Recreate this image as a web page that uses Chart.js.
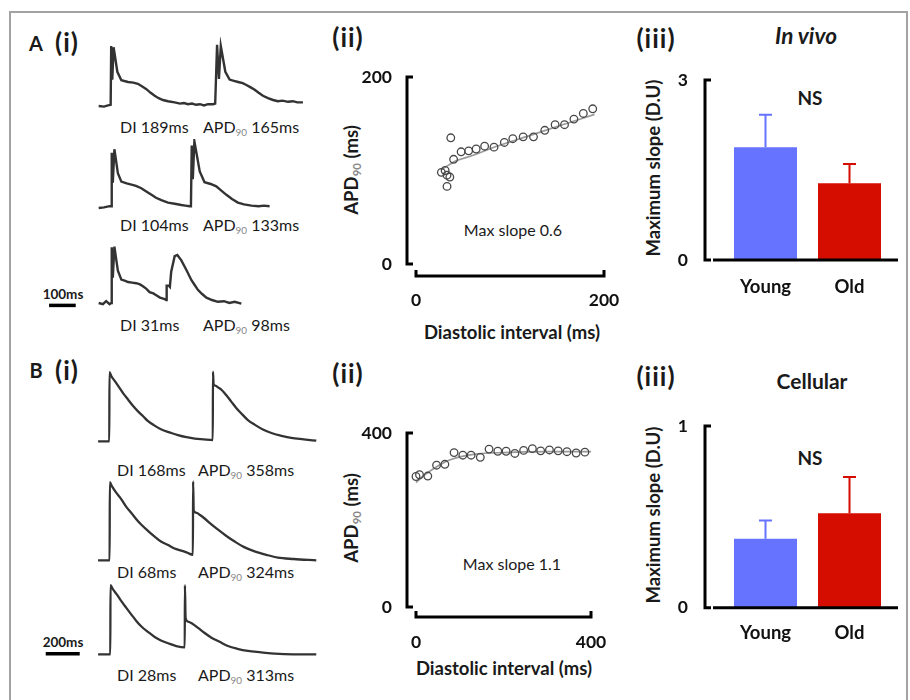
<!DOCTYPE html>
<html><head><meta charset="utf-8">
<script src="https://cdn.jsdelivr.net/npm/chart.js@4.4.1/dist/chart.umd.min.js"></script>
<style>
body{margin:0;background:#fff;width:910px;height:700px;overflow:hidden;position:relative;font-family:Lato,sans-serif;color:#1a1a1a}
canvas{position:absolute}
#frame{position:absolute;left:9px;top:11px;width:895px;height:720px;border:2px solid #a3a3a3;border-bottom:none}
.t{position:absolute;white-space:nowrap;transform:translate(-50%,-50%);line-height:1}
.l{position:absolute;white-space:nowrap;transform:translateY(-50%);line-height:1;font-size:16px}
.b{font-weight:bold}
.rot{transform:translate(-50%,-50%) rotate(-90deg)}
sub{font-size:0.62em;color:#888;vertical-align:-0.3em;line-height:0}
.pl{font-size:26px;font-weight:bold;letter-spacing:1px}
</style></head><body>
<div id="frame"></div>

<div class="t b" style="left:36px;top:43px;font-size:20px">A</div>
<div class="t pl" style="left:67px;top:42px">(i)</div>
<div class="t b" style="left:36px;top:370px;font-size:20px">B</div>
<div class="t pl" style="left:67px;top:370px">(i)</div>
<div class="t pl" style="left:348px;top:37px">(ii)</div>
<div class="t pl" style="left:348px;top:373px">(ii)</div>
<div class="t pl" style="left:656px;top:38px">(iii)</div>
<div class="t pl" style="left:656px;top:376px">(iii)</div>
<div class="t b" style="left:806px;top:36px;font-size:22.5px;font-style:italic">In vivo</div>
<div class="t b" style="left:812px;top:380px;font-size:21px">Cellular</div>
<div class="t b" style="left:810px;top:97px;font-size:19px">NS</div>
<div class="t b" style="left:810px;top:457px;font-size:19px">NS</div>
<div class="t b rot" style="left:653px;top:168px;font-size:18.5px">Maximum slope (D.U)</div>
<div class="t b rot" style="left:653px;top:515px;font-size:18.5px">Maximum slope (D.U)</div>
<div class="t b rot" style="left:351px;top:170px;font-size:18.5px">APD<sub>90</sub> (ms)</div>
<div class="t b rot" style="left:351px;top:518px;font-size:18.5px">APD<sub>90</sub> (ms)</div>
<div class="t b" style="left:512px;top:332px;font-size:18.5px">Diastolic interval (ms)</div>
<div class="t b" style="left:504px;top:668px;font-size:18.5px">Diastolic interval (ms)</div>
<div class="t" style="left:513px;top:230px;font-size:16px">Max slope 0.6</div>
<div class="t" style="left:512px;top:564px;font-size:16px">Max slope 1.1</div>
<div class="t b" style="left:63px;top:295px;font-size:13.5px">100ms</div>
<div class="t b" style="left:63px;top:643px;font-size:13.5px">200ms</div>

<div class="l" style="left:120px;top:127px">DI 189ms</div>
<div class="l" style="left:203px;top:127px">APD<sub>90</sub> 165ms</div>
<div class="l" style="left:120px;top:225px">DI 104ms</div>
<div class="l" style="left:203px;top:225px">APD<sub>90</sub> 133ms</div>
<div class="l" style="left:120px;top:325px">DI 31ms</div>
<div class="l" style="left:203px;top:325px">APD<sub>90</sub> 98ms</div>
<div class="l" style="left:117px;top:470px">DI 168ms</div>
<div class="l" style="left:198px;top:470px">APD<sub>90</sub> 358ms</div>
<div class="l" style="left:117px;top:572px">DI 68ms</div>
<div class="l" style="left:198px;top:572px">APD<sub>90</sub> 324ms</div>
<div class="l" style="left:117px;top:675px">DI 28ms</div>
<div class="l" style="left:198px;top:675px">APD<sub>90</sub> 313ms</div>

<script>
// ---------- DATA ----------
// In vivo action potential traces: [time (ms), normalised voltage (%)]
const traceA1 = [[0,0],[20,-1],[35,1],[45,2],[47,100],[51,44],[56,98],[70,57],[85,43],[110,40],[130,39],[147,37],[165,32],[179,28],[195,22],[210,17],[225,13],[241,10],[260,8],[285,6],[305,4],[320,5],[335,3],[350,4],[365,2],[380,3],[395,1],[410,3],[429,3],[437,4],[444,102],[451,45],[458,100],[475,57],[491,44],[507,42],[523,40],[540,38],[554,35],[570,31],[585,27],[600,22],[616,17],[635,13],[654,10],[672,8],[690,9],[710,7],[728,8],[745,6],[766,6]];
const traceA2 = [[0,0],[20,1],[41,3],[47,3],[49,92],[53,42],[59,98],[72,58],[85,44],[105,41],[123,39],[140,37],[160,33],[180,27],[198,22],[215,17],[235,13],[260,9],[285,7],[310,5],[325,4],[341,3],[346,3],[349,104],[353,48],[359,111],[379,61],[397,43],[420,40],[441,36],[460,29],[479,22],[500,15],[522,9],[545,6],[573,4],[600,3],[620,4],[641,3]];
const traceA3 = [[0,0],[16,-2],[28,3],[41,-2],[47,0],[49,93],[53,42],[59,94],[72,54],[85,39],[100,37],[110,35],[125,34],[141,33],[155,31],[166,28],[178,24],[191,18],[205,16],[216,13],[230,9],[245,7],[253,5],[255,29],[263,29],[267,27],[272,52],[285,78],[295,80],[310,71],[329,55],[348,38],[360,30],[372,22],[388,15],[404,9],[425,5],[447,2],[470,3],[490,0],[510,2],[535,-1]];
const scaleBarA = [[-186,-4],[-86,-4]];   // 100 ms
// Cellular (model) traces
const traceB1 = [[0,0],[66,0],[67,99],[79,93],[100,86],[128,76],[150,68],[176,60],[205,51],[235,43],[265,36],[294,29],[330,23],[373,17],[420,13],[470,9],[520,6],[569,4],[620,3],[675,2],[676,100],[680,81],[690,80],[708,77],[726,74],[755,66],[784,57],[813,48],[843,40],[880,31],[921,24],[970,17],[1020,12],[1080,8],[1137,5],[1210,3],[1284,1]];
const traceB2 = [[0,0],[68,0],[69,112],[82,106],[110,96],[138,87],[165,77],[196,68],[225,59],[255,51],[295,42],[333,34],[370,27],[412,22],[450,17],[490,14],[525,11],[558,8],[559,113],[563,71],[580,68],[600,65],[627,60],[665,52],[706,44],[755,35],[804,27],[860,19],[921,13],[990,8],[1058,4],[1150,2],[1284,0]];
const traceB3 = [[0,0],[72,0],[73,99],[88,93],[110,86],[138,76],[165,67],[196,57],[225,48],[255,40],[295,32],[333,25],[370,20],[412,16],[460,12],[510,10],[511,99],[515,52],[529,47],[555,44],[588,38],[625,31],[667,24],[715,18],[764,12],[820,8],[882,5],[960,3],[1039,1],[1150,0],[1284,0]];
const scaleBarB = [[-308,1],[-108,1]];    // 200 ms

// Restitution: diastolic interval (ms) vs APD90 (ms)
const restA_DI  = [27,31,33,33,36,37,40,48,56,64,73,83,94,103,114,125,137,148,158,168,178,188];
const restA_APD = [98,100,95,83,93,135,112,120,121,123,126,125,130,134,136,136,143,149,149,155,161,166];
const fitA_DI   = [27,35,42,60,86,120,150,190];
const fitA_APD  = [101,106,110,116,126,137,147,160];
const restB_DI  = [0,8,27,47,66,87,107,126,147,167,187,206,226,246,266,285,305,325,345,366,386];
const restB_APD = [300,304,301,326,328,355,349,349,344,363,358,358,353,360,364,359,361,359,357,354,356];
const fitB_DI   = [0,20,40,60,80,100,140,200,300,400];
const fitB_APD  = [286,304,318,330,339,345,352,355,357,357];
const restA_ticksX = [0,200], restA_ticksY = [0,200];
const restB_ticksX = [0,400], restB_ticksY = [0,400];

// Maximum slope (D.U)
const groups   = ['Young','Old'];
const vivoMean = [1.88,1.28], vivoErr = [0.54,0.32];
const cellMean = [0.38,0.52], cellErr = [0.10,0.20];
const vivoTicks = [0,3], cellTicks = [0,1];

// ---------- DRAWING ----------
const BLUE = '#6673ff', RED = '#d40d00';
Chart.defaults.font.family = 'Lato';
function addCanvas(left, top, w, h){
  const c = document.createElement('canvas');
  c.width = Math.round(w); c.height = Math.round(h);
  c.style.left = left + 'px'; c.style.top = top + 'px';
  c.style.width = Math.round(w) + 'px'; c.style.height = Math.round(h) + 'px';
  document.body.appendChild(c);
  return c;
}
const base = {responsive:false, animation:false, devicePixelRatio:1,
  plugins:{legend:{display:false}, tooltip:{enabled:false}}};

function makeTrace(pts, bar, x0, baseY, pxX, pxY, xmin, xmax, ymin, ymax, smooth, lw){
  const c = addCanvas(x0 + xmin*pxX, baseY - ymax*pxY, (xmax-xmin)*pxX, (ymax-ymin)*pxY);
  const ds = [{data: pts.map(p=>({x:p[0], y:p[1]})), borderColor:'#333', borderWidth:lw,
    pointRadius:0, tension:0, cubicInterpolationMode: smooth?'monotone':'default', clip:false}];
  if (bar) ds.push({data: bar.map(p=>({x:p[0], y:p[1]})), borderColor:'#000', borderWidth:3.5, pointRadius:0, clip:false});
  new Chart(c, {type:'line', data:{datasets:ds}, options:Object.assign({}, base, {
    layout:{padding:0},
    scales:{x:{type:'linear', min:xmin, max:xmax, display:false}, y:{min:ymin, max:ymax, display:false}}})});
}
const pxA = 0.267, pxB = 0.17;
makeTrace(traceA1, null, 99, 106, pxA, 0.6, -250, 800, -10, 115, false, 2.4);
makeTrace(traceA2, null, 99, 208.3, pxA, 0.6, -250, 800, -10, 115, false, 2.4);
makeTrace(traceA3, scaleBarA, 99, 302.7, pxA, 0.6, -250, 800, -10, 115, false, 2.4);
makeTrace(traceB1, null, 98.3, 442, pxB, 0.7, -330, 1300, -8, 118, true, 2.3);
makeTrace(traceB2, null, 98.3, 561, pxB, 0.7, -330, 1300, -8, 118, true, 2.3);
makeTrace(traceB3, scaleBarB, 98.3, 655, pxB, 0.7, -330, 1300, -8, 118, true, 2.3);

function bracketAxes(yOff, xOff, xFrom, xTo, attachX){
  return {id:'brackets', afterDraw(chart){
    const {ctx, chartArea:ca, scales:{x, y}} = chart;
    ctx.save(); ctx.strokeStyle = '#000'; ctx.lineWidth = 3; ctx.lineJoin = 'miter';
    const ax = ca.left - yOff, y0 = y.getPixelForValue(y.min), y1 = y.getPixelForValue(y.max);
    ctx.beginPath(); ctx.moveTo(ax+6, y1); ctx.lineTo(ax, y1); ctx.lineTo(ax, y0); ctx.lineTo(ax+6, y0); ctx.stroke();
    ctx.beginPath();
    if (attachX){
      ctx.moveTo(ca.left - xFrom, y0); ctx.lineTo(ca.right + xTo, y0);
    } else {
      const ay = ca.bottom + xOff, x0 = x.getPixelForValue(x.min), x1 = x.getPixelForValue(x.max);
      ctx.moveTo(x0, ay-6); ctx.lineTo(x0, ay); ctx.lineTo(x1, ay); ctx.lineTo(x1, ay-6);
    }
    ctx.stroke(); ctx.restore();
  }};
}
const tickFont = {family:'Lato', weight:'bold', size:17.5};
// label offsets are given through (invisible) tick-mark lengths so that they do not pad the chart area
function hiddenGrid(len){ return {display:false, drawTicks:true, tickLength:len}; }

function makeScatter(left, top, w, h, pad, yW, xH, DI, APD, fDI, fAPD, tx, ty, yOff, xOff, xPad){
  const c = addCanvas(left, top, w, h);
  new Chart(c, {type:'scatter', data:{datasets:[
      {data: DI.map((d,i)=>({x:d, y:APD[i]})), pointRadius:3.8, pointBorderWidth:1.3,
       pointBorderColor:'#474747', pointBackgroundColor:'rgba(255,255,255,0)', clip:false},
      {type:'line', data: fDI.map((d,i)=>({x:d, y:fAPD[i]})), borderColor:'#9a9a9a', borderWidth:1.7,
       pointRadius:0, cubicInterpolationMode:'monotone', clip:false}]},
    options:Object.assign({}, base, {
      layout:{padding:pad},
      scales:{
        x:{type:'linear', min:tx[0], max:tx[1], afterBuildTicks:s=>{s.ticks = tx.map(v=>({value:v}));},
           afterFit:s=>{s.height = xH;}, grid:hiddenGrid(xPad), border:{display:false},
           ticks:{padding:0, font:tickFont, color:'#111', maxRotation:0, autoSkip:false}},
        y:{type:'linear', min:ty[0], max:ty[1], afterBuildTicks:s=>{s.ticks = ty.map(v=>({value:v}));},
           afterFit:s=>{s.width = yW;}, grid:hiddenGrid(24), border:{display:false},
           ticks:{padding:0, font:tickFont, color:'#111', autoSkip:false}}}}),
    plugins:[bracketAxes(yOff, xOff, 0, 0, false)]});
}
makeScatter(320, 57, 300, 290, {left:0, right:16, top:20, bottom:0}, 96, 83,
  restA_DI, restA_APD, fitA_DI, fitA_APD, restA_ticksX, restA_ticksY, 9, 12, 26);
makeScatter(320, 410, 290, 280, {left:0, right:19, top:23, bottom:0}, 96, 83,
  restB_DI, restB_APD, fitB_DI, fitB_APD, restB_ticksX, restB_ticksY, 9, 10, 25);

function errorBars(mean, err){
  return {id:'err', afterDatasetsDraw(chart){
    const {ctx, scales:{y}} = chart, meta = chart.getDatasetMeta(0);
    ctx.save(); ctx.lineWidth = 2;
    meta.data.forEach((bar, i)=>{
      const top = y.getPixelForValue(mean[i] + err[i]);
      ctx.strokeStyle = i === 0 ? BLUE : RED;
      ctx.beginPath(); ctx.moveTo(bar.x, bar.y); ctx.lineTo(bar.x, top);
      ctx.moveTo(bar.x - 6.5, top); ctx.lineTo(bar.x + 6.5, top); ctx.stroke();
    });
    ctx.restore();
  }};
}
function makeBars(top, h, padTop, xH, mean, err, ticks, xPad){
  const c = addCanvas(630, top, 280, h);
  new Chart(c, {type:'bar', data:{labels:groups, datasets:[{data:mean, backgroundColor:[BLUE, RED],
      barPercentage:0.75, categoryPercentage:1}]},
    options:Object.assign({}, base, {
      layout:{padding:{left:0, right:18.5, top:padTop, bottom:0}},
      scales:{
        x:{afterFit:s=>{s.height = xH;}, grid:{display:false, drawTicks:false}, border:{display:false},
           ticks:{padding:xPad, font:{family:'Lato', weight:'bold', size:18.5}, color:'#111'}},
        y:{min:ticks[0], max:ticks[1], afterBuildTicks:s=>{s.ticks = ticks.map(v=>({value:v}));},
           afterFit:s=>{s.width = 93.5;}, grid:hiddenGrid(35.5), border:{display:false},
           ticks:{padding:0, font:tickFont, color:'#111', autoSkip:false}}}}),
    plugins:[errorBars(mean, err), bracketAxes(18.5, 0, 10.5, 6.5, true)]});
}
makeBars(60, 250, 20, 50, vivoMean, vivoErr, vivoTicks, 16);
makeBars(400, 260, 26, 52.3, cellMean, cellErr, cellTicks, 14);
</script>
</body></html>
